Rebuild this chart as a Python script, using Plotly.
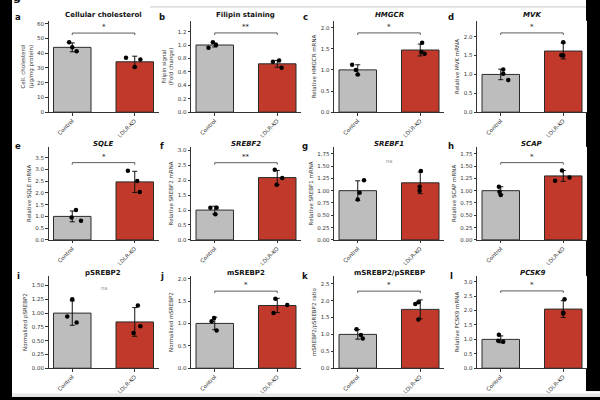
import plotly.graph_objects as go

categories = ["Control", "LDLR-KO"]
letters = ["a", "b", "c", "d", "e", "f", "g", "h", "i", "j", "k", "l"]
titles = ["<b>Cellular cholesterol</b>", "<b>Filipin staining</b>", "<b><i>HMGCR</i></b>", "<b><i>MVK</i></b>",
          "<b><i>SQLE</i></b>", "<b><i>SREBF2</i></b>", "<b><i>SREBF1</i></b>", "<b><i>SCAP</i></b>",
          "<b>pSREBP2</b>", "<b>mSREBP2</b>", "<b>mSREBP2/pSREBP</b>", "<b><i>PCSK9</i></b>"]
ylabels = ["Cell. cholesterol<br>(µg/mg protein)", "Filipin signal<br>(Fold change)", "Relative HMGCR mRNA",
           "Relative MVK mRNA", "Relative SQLE mRNA", "Relative SREBF2 mRNA", "Relative SREBF1 mRNA",
           "Relative SCAP mRNA", "Normalized pSREBP2", "Normalized mSREBP2", "mSREBP2/pSREBP2 ratio",
           "Relative PCSK9 mRNA"]

ctrl_mean = [44.0, 1.0, 1.0, 1.0, 1.0, 1.0, 1.0, 1.0, 1.0, 1.0, 1.0, 1.0]
ko_mean = [34.2, 0.72, 1.47, 1.62, 2.47, 2.09, 1.16, 1.30, 0.84, 1.40, 1.74, 2.05]
ctrl_err = [3.0, 0.03, 0.12, 0.14, 0.23, 0.13, 0.20, 0.08, 0.22, 0.14, 0.14, 0.12]
ko_err = [3.8, 0.05, 0.14, 0.21, 0.45, 0.24, 0.22, 0.11, 0.26, 0.16, 0.28, 0.29]
ctrl_pts = [[47.4, 44.0, 41.3], [0.96, 1.04, 1.0], [1.12, 1.0, 0.89], [1.13, 1.02, 0.85],
            [1.27, 0.95, 0.82], [1.08, 1.08, 0.86], [1.21, 0.96, 0.82], [1.08, 0.98, 0.91],
            [1.25, 0.94, 0.83], [1.12, 1.05, 0.84], [1.15, 0.98, 0.88], [1.16, 0.95, 0.92]]
ko_pts = [[36.9, 30.6, 35.7], [0.75, 0.77, 0.66], [1.64, 1.42, 1.38], [1.85, 1.51, 1.50],
          [2.94, 2.51, 2.04], [2.35, 2.08, 1.85], [1.40, 1.08, 1.00], [1.41, 1.20, 1.27],
          [1.14, 0.64, 0.76], [1.55, 1.23, 1.41], [1.90, 1.95, 1.44], [2.39, 1.92, 1.90]]
ctrl_jit = [[-0.05, 0.0, 0.07], [-0.1, -0.03, 0.02], [-0.09, -0.03, 0.0], [0.04, 0.04, 0.12],
            [0.06, -0.01, 0.14], [-0.07, 0.03, 0.01], [0.1, 0.03, 0.0], [-0.03, -0.02, 0.0],
            [0.0, -0.08, 0.07], [-0.01, -0.05, 0.03], [-0.02, 0.05, 0.08], [-0.03, -0.04, 0.04]]
ko_jit = [[-0.14, 0.0, 0.09], [-0.07, 0.03, 0.07], [0.03, 0.02, 0.07], [0.0, -0.03, 0.0],
          [-0.11, 0.04, 0.08], [-0.04, 0.08, -0.01], [0.01, -0.01, -0.01], [-0.02, -0.13, 0.1],
          [0.05, -0.02, 0.09], [-0.03, -0.06, 0.16], [-0.08, -0.03, -0.03], [0.02, 0.0, 0.0]]
sig_labels = ["*", "**", "*", "*", "*", "**", "ns", "*", "ns", "*", "*", "*"]
sig_height = [53.7, 1.18, 1.875, 2.10, 3.29, 2.59, 1.60, 1.57, 1.46, 1.72, 2.28, 2.68]
y_max = [62, 1.36, 2.16, 2.42, 3.96, 3.12, 1.89, 1.89, 1.675, 2.06, 2.73, 3.2]
y_dtick = [10, 0.2, 0.5, 0.5, 0.5, 0.5, 0.25, 0.25, 0.25, 0.5, 0.5, 0.5]
y_fmt = ["d", ".1f", ".1f", ".1f", ".1f", ".1f", ".2f", ".2f", ".2f", ".1f", ".1f", ".1f"]

W, H = 600, 400
col_px = [(48.5, 158.5), (191, 301), (334, 444), (477, 587)]
row_px = [(21, 113), (148, 241.7), (278, 371)]
title_py = [15, 145.5, 275]
letter_px = [18, 162, 305, 451]
letter_py = [17, 147, 278]

CTRL_COLOR = "#bdbdbd"
KO_COLOR = "#c0392b"
EDGE = "#2b2b2b"
FONT = "DejaVu Sans"

fig = go.Figure()
annotations = []
layout = {}

for i in range(12):
    r, c = divmod(i, 4)
    s = "" if i == 0 else str(i + 1)
    xa, ya = "x" + s, "y" + s
    x0, x1 = col_px[c]
    y0, y1 = row_px[r]

    fig.add_trace(go.Bar(
        x=[0, 1], y=[ctrl_mean[i], ko_mean[i]], width=0.6,
        marker=dict(color=[CTRL_COLOR, KO_COLOR], line=dict(color=EDGE, width=1)),
        error_y=dict(type="data", array=[ctrl_err[i], ko_err[i]], color="#111", thickness=1, width=2.5),
        xaxis=xa, yaxis=ya, showlegend=False, hoverinfo="skip"))
    px = [0 + j for j in ctrl_jit[i]] + [1 + j for j in ko_jit[i]]
    py = ctrl_pts[i] + ko_pts[i]
    fig.add_trace(go.Scatter(x=px, y=py, mode="markers",
                             marker=dict(color="black", size=4.5),
                             xaxis=xa, yaxis=ya, showlegend=False, hoverinfo="skip"))
    if sig_labels[i] != "ns":
        h = sig_height[i]
        d = y_max[i] * 0.022
        fig.add_trace(go.Scatter(x=[0, 0, 1, 1], y=[h - d, h, h, h - d], mode="lines",
                                 line=dict(color="#333", width=0.8),
                                 xaxis=xa, yaxis=ya, showlegend=False, hoverinfo="skip"))
        annotations.append(dict(x=0.5, y=h, xref=xa, yref=ya, text=sig_labels[i], showarrow=False,
                                yanchor="bottom", yshift=0, font=dict(family=FONT, size=7, color="#111")))
    else:
        annotations.append(dict(x=0.5, y=sig_height[i], xref=xa, yref=ya, text="ns", showarrow=False,
                                yanchor="middle", font=dict(family=FONT, size=5.5, color="#888")))

    axis_common = dict(showline=True, linecolor="#333", linewidth=0.8, ticks="outside", ticklen=2.5,
                       tickwidth=0.8, tickcolor="#333", showgrid=False, zeroline=False,
                       tickfont=dict(family=FONT, size=5.5, color="#333"))
    layout["xaxis" + s] = dict(domain=[x0 / W, x1 / W], range=[-0.38, 1.38], anchor=ya,
                               tickvals=[0, 1], ticktext=categories, tickangle=-45, **axis_common)
    layout["yaxis" + s] = dict(domain=[1 - y1 / H, 1 - y0 / H], range=[0, y_max[i]], anchor=xa,
                               dtick=y_dtick[i], tick0=0, tickformat=y_fmt[i],
                               title=dict(text=ylabels[i], font=dict(family=FONT, size=5.5, color="#333"),
                                          standoff=3),
                               **axis_common)
    annotations.append(dict(x=(x0 + x1) / 2 / W, y=1 - title_py[r] / H, xref="paper", yref="paper",
                            text=titles[i], showarrow=False, xanchor="center", yanchor="middle",
                            font=dict(family=FONT, size=7, color="#111")))
    annotations.append(dict(x=letter_px[c] / W, y=1 - letter_py[r] / H, xref="paper", yref="paper",
                            text="<b>" + letters[i] + "</b>", showarrow=False, xanchor="center",
                            yanchor="middle", font=dict(family=FONT, size=8.5, color="#111")))

annotations.append(dict(x=17 / W, y=1 + 3 / H, xref="paper", yref="paper", text="<b>g</b>",
                        showarrow=False, xanchor="center", yanchor="middle",
                        font=dict(family=FONT, size=11, color="#111")))

# dark page background with the white figure sheet on top of it
fig.update_layout(width=W, height=H, margin=dict(l=0, r=0, t=0, b=0, pad=0), paper_bgcolor="#000000",
                  plot_bgcolor="white", annotations=annotations,
                  font=dict(family=FONT), **layout)
fig.add_shape(type="rect", xref="paper", yref="paper", x0=12 / W, x1=586 / W, y0=0, y1=1,
              fillcolor="white", line=dict(width=0), layer="below")
fig.add_shape(type="rect", xref="paper", yref="paper", x0=586 / W, x1=1, y0=0, y1=6 / H,
              fillcolor="white", line=dict(width=0), layer="below")
fig.add_shape(type="rect", xref="paper", yref="paper", x0=12 / W, x1=1, y0=0, y1=3.5 / H,
              fillcolor="#e6e6e6", line=dict(width=0), layer="above")
fig.add_shape(type="line", xref="paper", yref="paper", x0=150 / W, x1=586 / W, y0=1 - 7 / H, y1=1 - 7 / H,
              line=dict(color="#c8c8c8", width=1), layer="above")

fig.write_html("out.html")
